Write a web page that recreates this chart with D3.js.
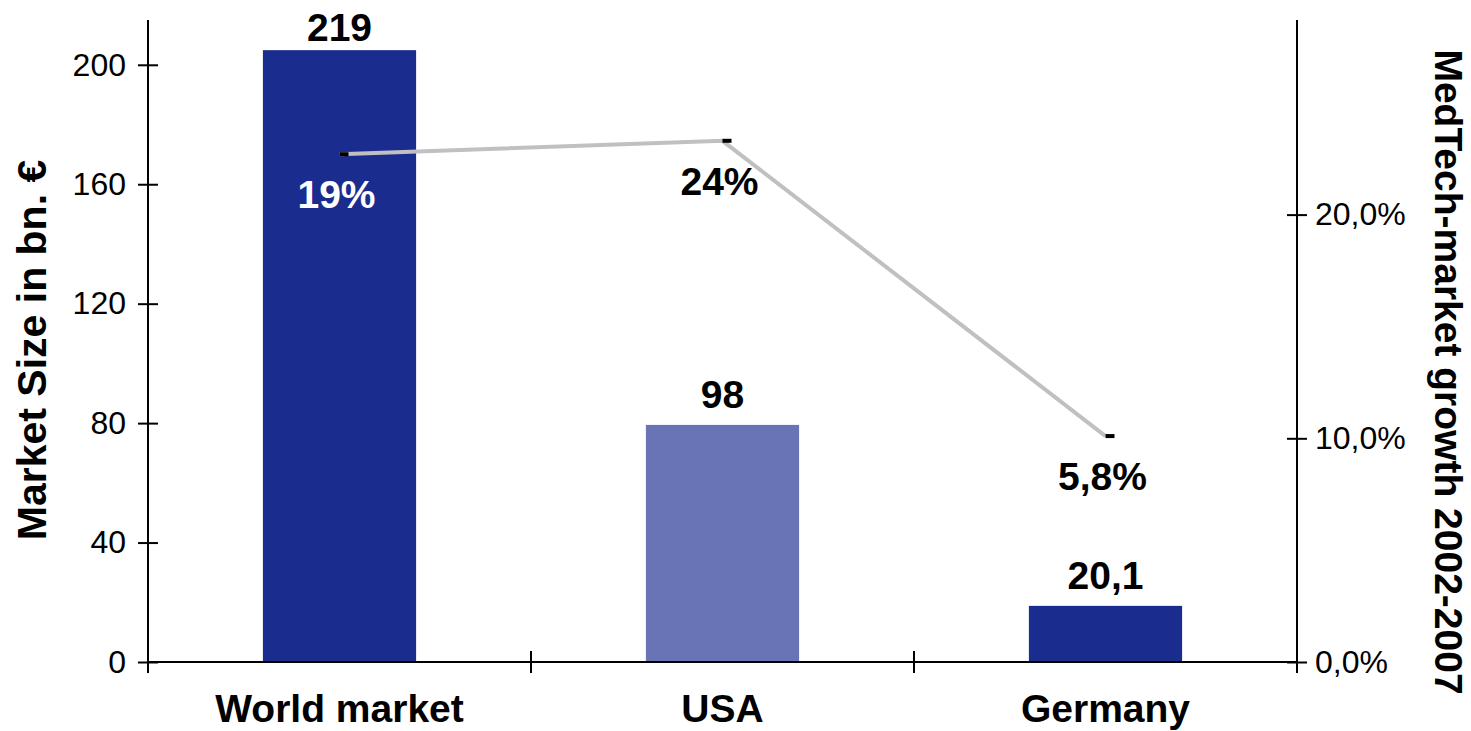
<!DOCTYPE html>
<html>
<head>
<meta charset="utf-8">
<script src="https://cdn.jsdelivr.net/npm/d3@7"></script>
<style>
  body { margin: 0; background: #fff; }
  text { font-family: "Liberation Sans", Arial, sans-serif; }
</style>
</head>
<body>
<script>
// categories and values
const categories = ["World market", "USA", "Germany"];
const barValues = [204.9, 79.4, 18.8];          // drawn height of bars (bn. €)
const barLabels = ["219", "98", "20,1"];         // printed labels
const growthValues = [0.227, 0.233, 0.101];      // drawn line points
const growthLabels = ["19%", "24%", "5,8%"];
const leftTicks = [0, 40, 80, 120, 160, 200];
const rightTicks = [0, 0.1, 0.2];

const barColors = ["#1a2d8f", "#6874b5", "#1a2d8f"];
const growthLabelColors = ["#fff", "#000", "#000"];

const width = 1471, height = 731;
const x0 = 148, x1 = 1297, yTop = 20, yBottom = 662;

const svg = d3.select("body").append("svg")
  .attr("width", width)
  .attr("height", height);

// scales
const band = d3.scaleBand().domain(categories).range([x0, x1])
  .paddingInner(0.6).paddingOuter(0.3);
const outer = d3.scaleBand().domain(categories).range([x0, x1]).padding(0);
const yLeft = d3.scaleLinear().domain([0, 215]).range([yBottom, yTop]);
const yRight = d3.scaleLinear().domain([0, 0.287]).range([yBottom, yTop]);

// bars
svg.append("g").selectAll("rect")
  .data(categories)
  .enter().append("rect")
  .attr("x", d => band(d))
  .attr("width", band.bandwidth())
  .attr("y", (d, i) => yLeft(barValues[i]))
  .attr("height", (d, i) => yBottom - yLeft(barValues[i]))
  .attr("fill", (d, i) => barColors[i]);

// bar labels (kept inside the top edge)
svg.append("g").selectAll("text")
  .data(categories)
  .enter().append("text")
  .attr("x", d => band(d) + band.bandwidth() / 2)
  .attr("y", (d, i) => Math.max(yLeft(barValues[i]) - 17, 41))
  .attr("text-anchor", "middle")
  .attr("font-size", 39)
  .attr("font-weight", "bold")
  .text((d, i) => barLabels[i]);

// left axis
const axL = svg.append("g")
  .attr("transform", `translate(${x0},0)`)
  .call(d3.axisLeft(yLeft).tickValues(leftTicks).tickSize(10).tickPadding(12));
axL.select(".domain").remove();
axL.selectAll(".tick line").attr("x1", 10).attr("stroke", "#000").attr("stroke-width", 2);
axL.selectAll(".tick text").attr("font-size", 32).attr("font-family", "Liberation Sans, Arial, sans-serif").attr("fill", "#000");
svg.append("line")
  .attr("x1", x0).attr("x2", x0).attr("y1", yTop).attr("y2", yBottom + 11)
  .attr("stroke", "#000").attr("stroke-width", 2);

// right axis
const fmtPct = v => d3.format(".1f")(v * 100).replace(".", ",") + "%";
const axR = svg.append("g")
  .attr("transform", `translate(${x1},0)`)
  .call(d3.axisRight(yRight).tickValues(rightTicks).tickSize(10).tickPadding(8).tickFormat(fmtPct));
axR.select(".domain").remove();
axR.selectAll(".tick line").attr("x1", -10).attr("stroke", "#000").attr("stroke-width", 2);
axR.selectAll(".tick text").attr("font-size", 32).attr("font-family", "Liberation Sans, Arial, sans-serif").attr("fill", "#000");
svg.append("line")
  .attr("x1", x1).attr("x2", x1).attr("y1", yTop).attr("y2", yBottom + 11)
  .attr("stroke", "#000").attr("stroke-width", 2);

// bottom axis with ticks between categories
svg.append("line")
  .attr("x1", x0).attr("x2", x1).attr("y1", yBottom).attr("y2", yBottom)
  .attr("stroke", "#000").attr("stroke-width", 2);
svg.append("g").selectAll("line")
  .data(categories.slice(1))
  .enter().append("line")
  .attr("x1", d => outer(d)).attr("x2", d => outer(d))
  .attr("y1", yBottom - 11).attr("y2", yBottom + 11)
  .attr("stroke", "#000").attr("stroke-width", 2);
svg.append("g").selectAll("text")
  .data(categories)
  .enter().append("text")
  .attr("x", d => outer(d) + outer.bandwidth() / 2)
  .attr("y", 722)
  .attr("text-anchor", "middle")
  .attr("font-size", 39)
  .attr("font-weight", "bold")
  .text(d => d);

// growth line
const line = d3.line()
  .x((d, i) => outer(categories[i]) + outer.bandwidth() / 2)
  .y(d => yRight(d));
svg.append("path")
  .datum(growthValues)
  .attr("d", line)
  .attr("fill", "none")
  .attr("stroke", "#c0c0c0")
  .attr("stroke-width", 4);

// dash markers
svg.append("g").selectAll("rect")
  .data(growthValues)
  .enter().append("rect")
  .attr("x", (d, i) => outer(categories[i]) + outer.bandwidth() / 2)
  .attr("y", d => yRight(d) - 2)
  .attr("width", 9).attr("height", 4)
  .attr("fill", "#000");

// growth labels
svg.append("g").selectAll("text")
  .data(growthValues)
  .enter().append("text")
  .attr("x", (d, i) => outer(categories[i]) + outer.bandwidth() / 2 - 3)
  .attr("y", d => yRight(d) + 54)
  .attr("text-anchor", "middle")
  .attr("font-size", 39)
  .attr("font-weight", "bold")
  .attr("fill", (d, i) => growthLabelColors[i])
  .text((d, i) => growthLabels[i]);

// axis titles
svg.append("text")
  .attr("transform", "translate(46,350) rotate(-90)")
  .attr("text-anchor", "middle")
  .attr("font-size", 41)
  .attr("font-weight", "bold")
  .text("Market Size in bn. €");

svg.append("text")
  .attr("transform", "translate(1435,372) rotate(90)")
  .attr("text-anchor", "middle")
  .attr("font-size", 39)
  .attr("font-weight", "bold")
  .text("MedTech-market growth 2002-2007");
</script>
</body>
</html>
